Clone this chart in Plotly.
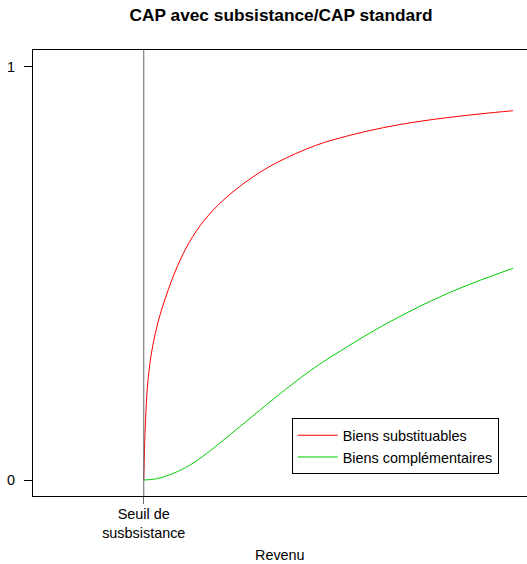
import plotly.graph_objects as go

# Data
seuil = 2.0
red_x = [2.0, 2.02, 2.045, 2.075, 2.13, 2.20, 2.31, 2.455, 2.635, 2.85, 3.14, 3.50, 3.935, 4.37, 4.875, 5.725, 6.45, 7.19, 7.9, 8.63, 9.35, 10.0]
red_y = [0.0, 0.09, 0.16, 0.22, 0.28, 0.328, 0.383, 0.436, 0.492, 0.547, 0.603, 0.653, 0.698, 0.734, 0.768, 0.810, 0.834, 0.853, 0.867, 0.878, 0.887, 0.894]
green_x = [2.0, 2.275, 2.635, 3.0, 3.36, 3.72, 4.08, 4.44, 4.80, 5.16, 5.52, 5.88, 6.25, 6.97, 7.69, 8.41, 9.135, 10.0]
green_y = [0.0, 0.003, 0.016, 0.036, 0.064, 0.096, 0.129, 0.162, 0.195, 0.227, 0.2575, 0.2855, 0.3115, 0.3605, 0.404, 0.443, 0.477, 0.5125]
y_ticks = [0, 1]
x_tick_label = "Seuil de<br>susbsistance"

fig = go.Figure()
fig.add_trace(go.Scatter(x=red_x, y=red_y, mode="lines", name="Biens substituables",
                         line=dict(color="#ff0000", width=1, shape="spline", smoothing=1.0)))
fig.add_trace(go.Scatter(x=green_x, y=green_y, mode="lines", name="Biens complémentaires",
                         line=dict(color="#00cd00", width=1, shape="spline", smoothing=1.1)))

fig.add_shape(type="line", xref="x", yref="paper", x0=seuil, x1=seuil, y0=0, y1=1,
              line=dict(color="#666666", width=1))

fig.add_annotation(text="Revenu", xref="paper", yref="paper", x=0.5, y=-(555 - 496) / 446,
                   xanchor="center", yanchor="middle", showarrow=False,
                   font=dict(size=14.4, color="black"))

fig.update_layout(
    width=527, height=564,
    margin=dict(l=33, r=0, t=50, b=68),
    plot_bgcolor="white", paper_bgcolor="white",
    font=dict(family="Liberation Sans, Arial, sans-serif", size=14.4, color="black"),
    title=dict(text="<b>CAP avec subsistance/CAP standard</b>", x=281 / 527, xanchor="center",
               y=1 - 15 / 564, yanchor="middle", font=dict(size=17.3)),
    showlegend=True,
    legend=dict(x=0.5237, y=0.174, xanchor="left", yanchor="top",
                bordercolor="black", borderwidth=1, bgcolor="white",
                font=dict(size=14.4), tracegroupgap=0, itemwidth=40),
)
fig.update_xaxes(range=[-0.4, 10.304], showgrid=False, zeroline=False, automargin=False,
                 showline=True, mirror=True, linecolor="black", linewidth=1,
                 tickmode="array", tickvals=[seuil], ticktext=[x_tick_label],
                 ticks="outside", ticklen=7, tickcolor="#666666", ticklabelstandoff=-2)
fig.update_yaxes(range=[-0.0387, 1.041], showgrid=False, zeroline=False, automargin=False,
                 showline=True, mirror=False, linecolor="black", linewidth=1,
                 tickmode="array", tickvals=y_ticks, ticktext=[str(v) for v in y_ticks],
                 ticks="outside", ticklen=8, tickcolor="black", ticklabelstandoff=6)

fig.write_html("out.html", config={"displayModeBar": False},
               post_script="document.body.style.margin='0';")
